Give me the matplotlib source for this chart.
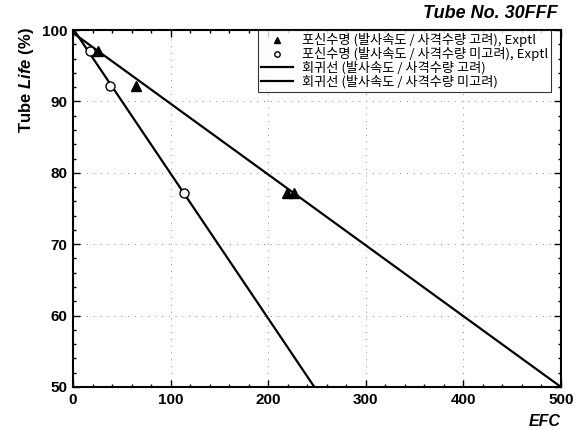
import numpy as np
import matplotlib
matplotlib.use("Agg")
import matplotlib.pyplot as plt
from matplotlib.ticker import MultipleLocator

plt.rcParams['font.family'] = ['Liberation Sans', 'DejaVu Sans']
plt.rcParams['mathtext.fontset'] = 'custom'
plt.rcParams['mathtext.rm'] = 'Liberation Sans:bold'
plt.rcParams['mathtext.it'] = 'Liberation Sans:bold:italic'
plt.rcParams['mathtext.bf'] = 'Liberation Sans:bold'

tri_x = [26, 65, 219, 226]
tri_y = [97.1, 92.2, 77.2, 77.2]
circ_x = [17, 38, 114]
circ_y = [97.1, 92.2, 77.2]

# regression lines: intercept, slope
reg_fire = [99.6, -0.0992]
reg_nofire = [100.2, -0.203]

labels = ["포신수명 (발사속도 / 사격수량 고려), Exptl",
          "포신수명 (발사속도 / 사격수량 미고려), Exptl",
          "회귀선 (발사속도 / 사격수량 고려)",
          "회귀선 (발사속도 / 사격수량 미고려)"]

fig = plt.figure(figsize=(5.87, 4.30), dpi=100)
ax = fig.add_axes([73/587, 43/430, 488/587, 357/430])

xs = np.array([0, 500])
ax.plot(tri_x, tri_y, '^', color='black', ms=7, ls='none', label=labels[0], zorder=4)
ax.plot(circ_x, circ_y, 'o', mfc='white', mec='black', mew=1.0, ms=6.5, ls='none',
        label=labels[1], zorder=4)
ax.plot(xs, reg_fire[0] + reg_fire[1] * xs, color='black', lw=1.6, label=labels[2])
ax.plot(xs, reg_nofire[0] + reg_nofire[1] * xs, color='black', lw=1.6, label=labels[3])

ax.set_xlim(0, 500)
ax.set_ylim(50, 100)
ax.xaxis.set_major_locator(MultipleLocator(100))
ax.xaxis.set_minor_locator(MultipleLocator(20))
ax.yaxis.set_major_locator(MultipleLocator(10))
ax.yaxis.set_minor_locator(MultipleLocator(2))
ax.tick_params(which='both', direction='in', top=True, right=True, width=1.0)
ax.tick_params(which='major', length=5, labelsize=11, pad=4)
ax.tick_params(which='minor', length=2.5)
for lab in ax.get_xticklabels() + ax.get_yticklabels():
    lab.set_fontweight('bold')
for s in ax.spines.values():
    s.set_linewidth(1.5)

ax.grid(True, which='major', color='#888888', linestyle=(0, (1, 6)), linewidth=0.7)

leg = ax.legend(loc='upper right', bbox_to_anchor=(0.98, 1.0),
                prop={'family': ['Noto Sans CJK KR', 'DejaVu Sans'], 'size': 9.5},
                frameon=True, fancybox=False, edgecolor='black', handlelength=2.4,
                handletextpad=0.7, borderpad=0.25, labelspacing=0.0, borderaxespad=0.0,
                markerscale=0.6)
leg.get_frame().set_linewidth(0.8)

fig.text(27/587, 1 - 80/430, r"Tube $\mathit{Life\ (\%)}$", rotation=90,
         ha='center', va='center', fontsize=12, fontweight='bold')
fig.text(561/587, 1 - 422/430, "EFC", ha='right', va='center', fontsize=11.5,
         fontweight='bold', style='italic')
fig.text(558/587, 1 - 13/430, "Tube No. 30FFF", ha='right', va='center', fontsize=13,
         fontweight='bold', style='italic')

fig.savefig("out.png", dpi=100)
